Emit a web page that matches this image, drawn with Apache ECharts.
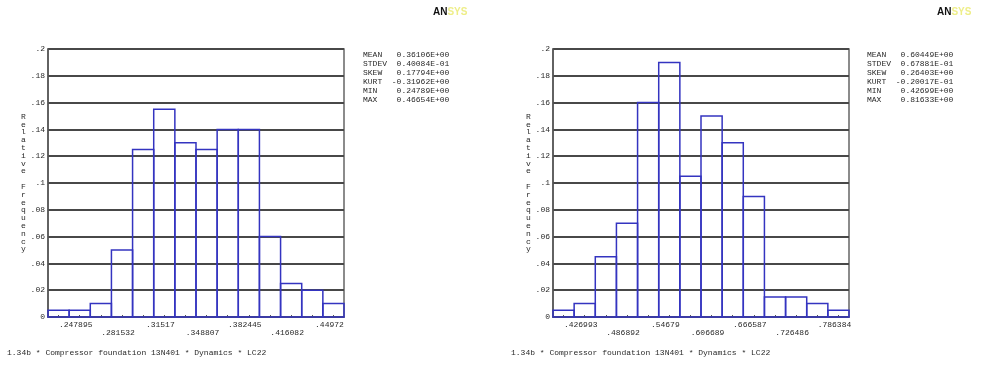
<!DOCTYPE html>
<html>
<head>
<meta charset="utf-8">
<script src="https://cdn.jsdelivr.net/npm/echarts@6/dist/echarts.min.js"></script>
<style>
  html, body { margin: 0; padding: 0; background: #fff; }
  #chart { width: 985px; height: 366px; }
</style>
</head>
<body>
<div id="chart"></div>
<script>
// relative frequency of each of the 14 bins (left / right histogram)
const freqLeft = [0.005, 0.005, 0.01, 0.05, 0.125, 0.155, 0.13, 0.125, 0.14, 0.14, 0.06, 0.025, 0.02, 0.01]
const freqRight = [0.005, 0.01, 0.045, 0.07, 0.16, 0.19, 0.105, 0.15, 0.13, 0.09, 0.015, 0.015, 0.01, 0.005]

// x tick labels (they sit on every second bin midpoint)
const xLabelsLeft = ['.247895', '.281532', '.31517', '.348807', '.382445', '.416082', '.44972']
const xLabelsRight = ['.426993', '.486892', '.54679', '.606689', '.666587', '.726486', '.786384']
const labelBins = [1.5, 3.5, 5.5, 7.5, 9.5, 11.5, 13.5]
const tickBins = [0.5, 1.5, 2.5, 3.5, 4.5, 5.5, 6.5, 7.5, 8.5, 9.5, 10.5, 11.5, 12.5, 13.5]

// statistics block
const statNames = ['MEAN', 'STDEV', 'SKEW', 'KURT', 'MIN', 'MAX']
const statsLeft = [' 0.36106E+00', ' 0.40084E-01', ' 0.17794E+00', '-0.31962E+00', ' 0.24789E+00', ' 0.46654E+00']
const statsRight = [' 0.60449E+00', ' 0.67881E-01', ' 0.26403E+00', '-0.20017E-01', ' 0.42699E+00', ' 0.81633E+00']

const footer = '1.34b * Compressor foundation 13N401 * Dynamics * LC22'
const yName = 'Relative Frequency'

const mono = '"Liberation Mono", "DejaVu Sans Mono", monospace'
const txt = '#2a2a2a'

function statText(vals) {
  return statNames.map((n, i) => n.padEnd(6) + vals[i]).join('\n')
}

function xAxisOf(idx, labels) {
  return {
    type: 'value', gridIndex: idx, min: 0, max: 14,
    axisLine: { show: true, lineStyle: { color: '#555', width: 1.5 } },
    axisTick: { show: true, inside: true, length: 2, customValues: tickBins, lineStyle: { color: '#555' } },
    splitLine: { show: false },
    axisLabel: {
      customValues: labelBins,
      fontFamily: mono, fontSize: 8, color: txt, lineHeight: 8, margin: 4,
      padding: [0, 8, 0, 0],
      formatter: v => {
        const k = labelBins.indexOf(v)
        if (k < 0) return ''
        return (k % 2 ? '\n' : '') + labels[k]
      }
    }
  }
}

function yAxisOf(idx, gap) {
  return {
    type: 'value', gridIndex: idx, min: 0, max: 0.2, interval: 0.02,
    name: yName.split('').join('\n'),
    nameLocation: 'middle', nameRotate: 0, nameGap: gap,
    nameTextStyle: { fontFamily: mono, fontSize: 8, lineHeight: 7.8, color: txt, align: 'center', verticalAlign: 'middle', padding: [0, 0, 10, 0] },
    axisLine: { show: true, lineStyle: { color: '#555', width: 1.5 } },
    axisTick: { show: false },
    splitLine: { show: true, lineStyle: { color: '#484848', width: 1.8 } },
    axisLabel: {
      fontFamily: mono, fontSize: 8, color: txt, margin: 3, padding: [0, 0, 4, 0],
      formatter: v => v === 0 ? '0' : String(+v.toFixed(2)).replace(/^0/, '')
    }
  }
}

function histSeries(idx, freqs) {
  return {
    type: 'custom', xAxisIndex: idx, yAxisIndex: idx,
    data: freqs.map((f, i) => [i, i + 1, f]),
    encode: { x: [0, 1], y: 2 },
    renderItem: (params, api) => {
      const p0 = api.coord([api.value(0), api.value(2)])
      const p1 = api.coord([api.value(1), 0])
      return {
        type: 'rect',
        shape: { x: p0[0], y: p0[1], width: p1[0] - p0[0], height: p1[1] - p0[1] },
        style: { fill: null, stroke: '#3434c0', lineWidth: 1.5 }
      }
    }
  }
}

function logo(x) {
  return {
    type: 'text', left: x, top: 7,
    style: {
      text: '{a|AN}{b|SYS}',
      rich: {
        a: { fontFamily: 'Liberation Sans', fontWeight: 'bold', fontSize: 10, fill: '#111' },
        b: { fontFamily: 'Liberation Sans', fontWeight: 'bold', fontSize: 10, fill: '#eeee88' }
      }
    }
  }
}

const chart = echarts.init(document.getElementById('chart'))
chart.setOption({
  animation: false,
  grid: [
    { left: 48, top: 49, width: 296, height: 268, show: true, borderColor: '#666', borderWidth: 1.5 },
    { left: 553, top: 49, width: 296, height: 268, show: true, borderColor: '#666', borderWidth: 1.5 }
  ],
  xAxis: [xAxisOf(0, xLabelsLeft), xAxisOf(1, xLabelsRight)],
  yAxis: [yAxisOf(0, 23), yAxisOf(1, 21)],
  series: [histSeries(0, freqLeft), histSeries(1, freqRight)],
  graphic: [
    logo(433), logo(937),
    { type: 'text', left: 363, top: 50, style: { text: statText(statsLeft), fontFamily: mono, fontSize: 8, lineHeight: 9, fill: txt } },
    { type: 'text', left: 867, top: 50, style: { text: statText(statsRight), fontFamily: mono, fontSize: 8, lineHeight: 9, fill: txt } },
    { type: 'text', left: 7, top: 349, style: { text: footer, fontFamily: mono, fontSize: 8, fill: txt } },
    { type: 'text', left: 511, top: 349, style: { text: footer, fontFamily: mono, fontSize: 8, fill: txt } }
  ]
})
</script>
</body>
</html>
